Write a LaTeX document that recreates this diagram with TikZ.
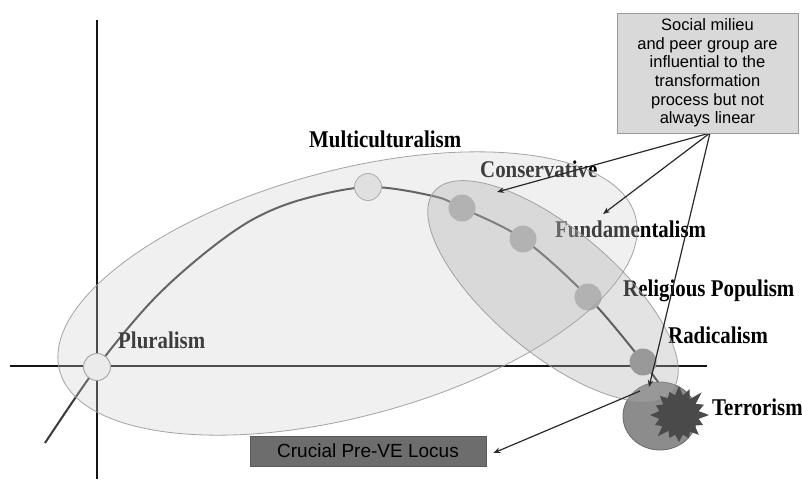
\documentclass[tikz,border=0pt]{standalone}
\usepackage{fontspec}
\setmainfont{Liberation Sans}
\newfontfamily\labfont[FakeStretch=0.87]{Liberation Serif}
\usetikzlibrary{arrows.meta}
\definecolor{axiscol}{HTML}{151515}
\definecolor{curvecol}{HTML}{383838}
\definecolor{bigfill}{HTML}{D0D0D0}
\definecolor{midfill}{HTML}{B0B0B0}
\definecolor{terrfill}{HTML}{8C8C8C}
\definecolor{terrline}{HTML}{6A6A6A}
\definecolor{starcol}{HTML}{4A4A4A}
\definecolor{dotcol}{HTML}{A8A8A8}
\definecolor{radcol}{HTML}{8E8E8E}
\definecolor{lightdot}{HTML}{E7E7E7}
\definecolor{palecircle}{HTML}{F8F8F8}
\definecolor{rimcol}{HTML}{9A9A9A}
\definecolor{boxfill}{HTML}{D9D9D9}
\definecolor{boxline}{HTML}{9A9A9A}
\definecolor{crucfill}{HTML}{6D6D6D}
\definecolor{crucline}{HTML}{5A5A5A}
\definecolor{arrcol}{HTML}{2A2A2A}
\begin{document}
\begin{tikzpicture}[x=1pt,y=-1pt,
  axis/.style={line width=2.6pt, draw=axiscol},
  curvesty/.style={line width=2pt, draw=curvecol},
  pale/.style={circle, minimum size=27pt, inner sep=0pt, fill=palecircle, draw=rimcol, line width=1pt},
  lightball/.style={circle, minimum size=27pt, inner sep=0pt, fill=lightdot, draw=rimcol, line width=0.8pt},
  graydot/.style={circle, minimum size=27pt, inner sep=0pt, fill=dotcol},
  raddot/.style={circle, minimum size=27pt, inner sep=0pt, fill=radcol},
  lab/.style={font=\labfont\bfseries\fontsize{24}{28}\selectfont, anchor=base west, inner sep=0pt, text=black},
  bigell/.style={fill=bigfill, fill opacity=0.3, draw=rimcol, line width=0.8pt, draw opacity=0.9},
  midell/.style={fill=midfill, fill opacity=0.35, draw=rimcol, line width=0.8pt, draw opacity=0.9},
  arr/.style={draw=arrcol, line width=1.2pt, -{Stealth[length=7pt,width=5.5pt]}},
  socialbox/.style={rectangle, fill=boxfill, draw=boxline, line width=1pt, minimum width=181pt, minimum height=120pt, inner sep=0pt, align=center, font=\fontsize{16.5}{18.6}\selectfont},
  crucialbox/.style={rectangle, fill=crucfill, draw=crucline, line width=0.8pt, minimum width=236pt, minimum height=30pt, inner sep=0pt, font=\fontsize{19}{22}\selectfont}
]
\useasboundingbox (0,0) rectangle (802,479);
\fill[white] (0,0) rectangle (802,479);

% axes
\draw[axis] (97,20) -- (97,479);
\draw[axis] (10,366) -- (707,366);

% curve
\draw[curvesty] plot[smooth, tension=0.55] coordinates {(45,443) (97,367) (150,303) (200,257) (250,221) (300,200) (368,187) (433,196) (462,208) (523,239) (588,297) (643,362) (672,402)};

% dots on the curve
\node[pale] (plu) at (97,367) {};
\node[lightball] (mul) at (368,187) {};
\node[graydot] (con) at (462,208) {};
\node[graydot] (fun) at (523,239) {};
\node[graydot] (rel) at (588,297) {};
\node[raddot] (rad) at (643,362) {};

% terrorism circle
\fill[terrfill, draw=terrline, line width=0.8pt] (660,416) ellipse [x radius=37pt, y radius=34pt];

% labels
\node[lab] (lplu) at (118,348) {Pluralism};
\node[lab] (lmul) at (309,147) {Multiculturalism};
\node[lab] (lcon) at (480,177) {Conservative};
\node[lab] (lfun) at (555,237) {Fundamentalism};
\node[lab] (lrel) at (623,296) {Religious Populism};
\node[lab] (lrad) at (668,343) {Radicalism};
\node[lab] (lter) at (712,415) {Terrorism};

% translucent ellipses
\path[bigell, rotate around={15:(347.5,293.5)}] (347.5,293.5) ellipse [x radius=298pt, y radius=123pt];
\path[midell, rotate around={-40:(553,291)}] (553,291) ellipse [x radius=155pt, y radius=62pt];

% star burst
\fill[starcol, shift={(679,415)}] (0:30pt) -- (11.25:20pt) -- (22.5:27pt) -- (33.75:20pt) -- (45:32pt) -- (56.25:19pt) -- (67.5:28pt) -- (78.75:20pt) -- (90:29pt) -- (101.25:20pt) -- (112.5:25pt) -- (123.75:20pt) -- (135:27pt) -- (146.25:19pt) -- (157.5:25pt) -- (168.75:20pt) -- (180:29pt) -- (191.25:20pt) -- (202.5:26pt) -- (213.75:20pt) -- (225:30pt) -- (236.25:19pt) -- (247.5:25pt) -- (258.75:20pt) -- (270:27pt) -- (281.25:20pt) -- (292.5:25pt) -- (303.75:20pt) -- (315:28pt) -- (326.25:19pt) -- (337.5:26pt) -- (348.75:20pt) -- cycle;

% boxes
\node[crucialbox] (crucial) at (368,451) {Crucial Pre-VE Locus};

% arrows
\coordinate (src) at (710,133);
\coordinate (tipC) at (497,192);
\coordinate (tipF) at (603,214);
\coordinate (tipR) at (649,387);
\coordinate (cstart) at (640,391);
\draw[arr] (src) -- (tipC);
\draw[arr] (src) -- (tipF);
\draw[arr] (src) -- (tipR);
\draw[arr] (cstart) -- ([xshift=7pt,yshift=-2pt]crucial.east);

\node[socialbox] (social) at (707.5,73) {Social milieu\\and peer group are\\influential to the\\transformation\\process but not\\always linear};
\end{tikzpicture}
\end{document}
